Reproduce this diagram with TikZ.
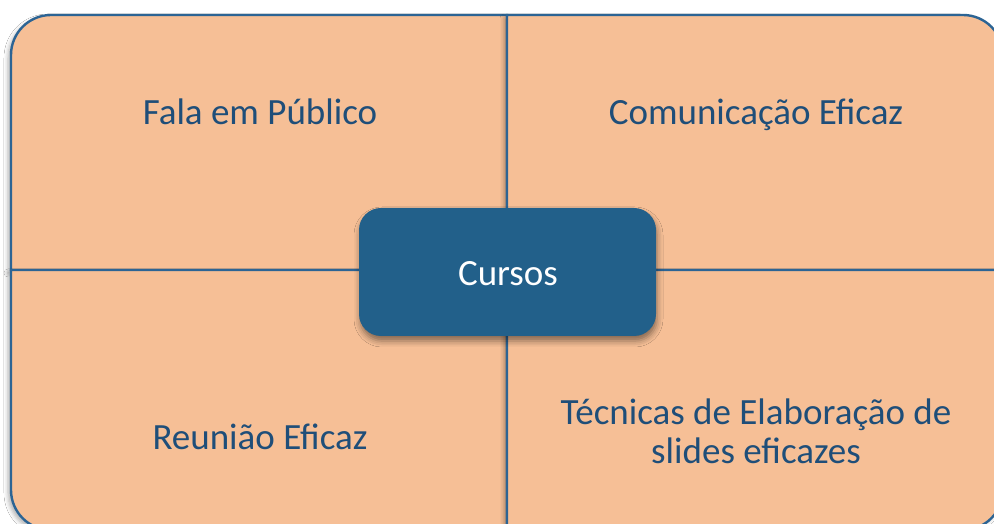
\documentclass[tikz,border=0pt]{standalone}
\usepackage{fontspec}
\setmainfont{Carlito}
\usetikzlibrary{shadows.blur}
\definecolor{peach}{HTML}{F6BF96}
\definecolor{edgeblue}{HTML}{2C6494}
\definecolor{txtblue}{HTML}{1F4E79}
\definecolor{boxblue}{HTML}{22608A}
\tikzset{
  quad/.style={fill=peach, draw=edgeblue, line width=2.4pt,
    blur shadow={shadow xshift=-3pt, shadow yshift=-3pt, shadow blur radius=4pt, shadow opacity=30}},
  lbl/.style={text=txtblue, font=\fontsize{37}{39}\selectfont, align=center, inner sep=0pt, anchor=base},
  centerbox/.style={fill=boxblue, rounded corners=22pt, minimum width=297pt, minimum height=128pt,
    text=white, font=\fontsize{37}{39}\selectfont, inner sep=0pt,
    blur shadow={shadow xshift=1pt, shadow yshift=-5pt, shadow blur radius=6pt, shadow opacity=45}}
}
\begin{document}
\begin{tikzpicture}[x=1pt,y=1pt]
\clip (0,0) rectangle (994,524);
\fill[white] (0,0) rectangle (994,524);
% quadrants
\path[quad] (507,254) -- (11,254) -- (11,469) arc[start angle=180,end angle=90,radius=40] -- (507,509) -- cycle;
\path[quad] (507,254) -- (11,254) -- (11,34) arc[start angle=180,end angle=270,radius=40] -- (507,-6) -- cycle;
\path[quad] (507,254) -- (507,509) -- (963,509) arc[start angle=90,end angle=0,radius=40] -- (1003,254) -- cycle;
\path[quad] (507,254) -- (1003,254) -- (1003,34) arc[start angle=0,end angle=-90,radius=40] -- (507,-6) -- cycle;
% labels
\node[lbl] (fala) at (260,399) {Fala em Público};
\node[lbl] (com) at (756,399) {Comunicação Eficaz};
\node[lbl] (reun) at (260,74) {Reunião Eficaz};
\node[lbl] (tec1) at (756,99) {Técnicas de Elaboração de};
\node[lbl] (tec2) at (756,60) {slides eficazes};
% center
\node[centerbox] (cursos) at (507.5,252) {};
\node[text=white, font=\fontsize{37}{39}\selectfont, inner sep=0pt, anchor=base] (curtxt) at (508,238) {Cursos};
\end{tikzpicture}
\end{document}
